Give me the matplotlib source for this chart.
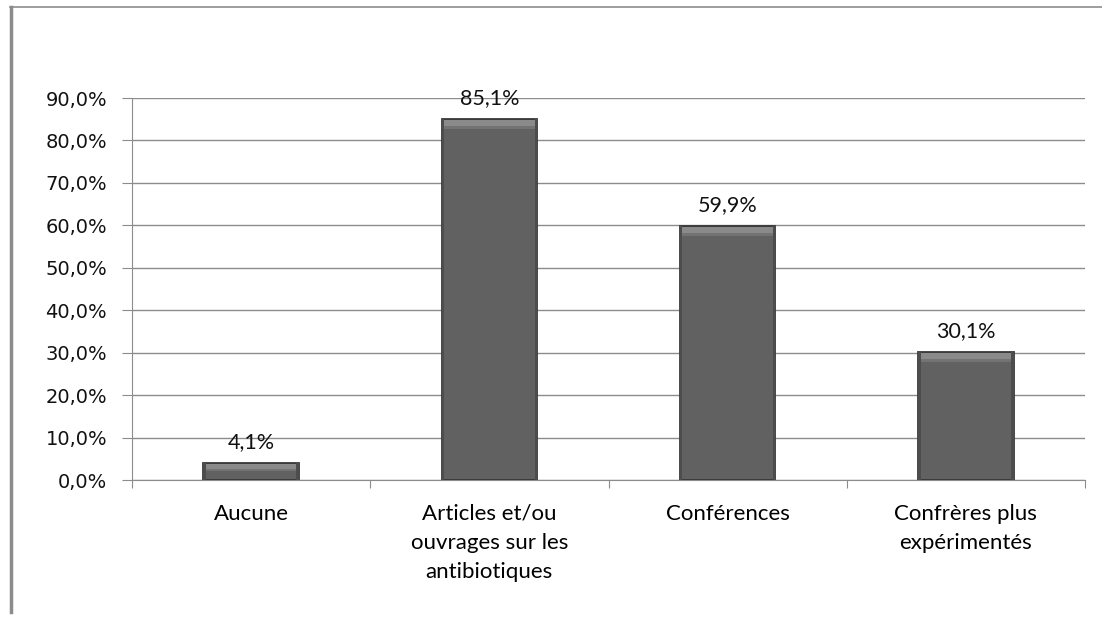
import matplotlib.pyplot as plt
from matplotlib.patches import Rectangle
from matplotlib.ticker import FuncFormatter

categories = ["Aucune", "Articles et/ou\nouvrages sur les\nantibiotiques",
              "Conférences", "Confrères plus\nexpérimentés"]
values = [4.1, 85.1, 59.9, 30.1]
yticks = [0, 10, 20, 30, 40, 50, 60, 70, 80, 90]

plt.rcParams['font.family'] = ['Lato', 'DejaVu Sans']

fig = plt.figure(figsize=(11.02, 6.17), dpi=100)
ax = fig.add_axes([132 / 1102, 1 - 480 / 617, (1085 - 132) / 1102, (480 - 98) / 617])

x = list(range(len(values)))
bars = ax.bar(x, values, width=0.40, color="#616161", edgecolor="#383838",
              linewidth=1.3, zorder=3)

# bevel: darker sides, lighter strip along the top
for b in bars:
    h = b.get_height()
    x0, w = b.get_x(), b.get_width()
    side = 0.010
    ax.add_patch(Rectangle((x0, 0), side, h, facecolor="#4d4d4d", edgecolor="none", zorder=4))
    ax.add_patch(Rectangle((x0 + w - side, 0), side, h, facecolor="#4d4d4d", edgecolor="none", zorder=4))
    band = min(1.4, h * 0.3)
    ax.add_patch(Rectangle((x0 + side, h - band - 0.25), w - 2 * side, band,
                           facecolor="#8a8a8a", edgecolor="none", zorder=4))
    ax.add_patch(Rectangle((x0 + side, h - band - 0.25 - band * 0.5), w - 2 * side, band * 0.5,
                           facecolor="#737373", edgecolor="none", zorder=4))
    ax.annotate(f"{h:.1f}%".replace(".", ","), (x0 + w / 2, h),
                xytext=(0, 15), textcoords="offset points", ha="center", va="center",
                fontsize=15.5, color="#111111")

ax.set_xlim(-0.5, len(values) - 0.5)
ax.set_ylim(0, 90)
ax.set_yticks(yticks)
ax.yaxis.set_major_formatter(FuncFormatter(lambda v, p: f"{v:.1f}%".replace(".", ",")))
ax.grid(axis="y", color="#8c8c8c", linewidth=1, zorder=0)

ax.set_xticks([i + 0.5 for i in range(-1, len(values))], minor=False)
ax.set_xticklabels([])
ax.set_xticks(x, minor=True)
ax.set_xticklabels(categories, minor=True, fontsize=16, linespacing=1.58, va="top")
ax.tick_params(axis="x", which="minor", length=0, pad=17)
ax.tick_params(axis="x", which="major", length=6, color="#8c8c8c", direction="out")
ax.tick_params(axis="y", length=7, color="#8c8c8c", labelsize=14, pad=11)
for lab in ax.get_yticklabels():
    lab.set_family(['DejaVu Sans'])
    lab.set_color("#111111")

for s in ["top", "right"]:
    ax.spines[s].set_visible(False)
ax.spines["left"].set_color("#8c8c8c")
ax.spines["bottom"].set_color("#8c8c8c")

# outer frame lines
fig.add_artist(plt.Line2D([11 / 1102, 11 / 1102], [1 - 7 / 617, 1 - 612 / 617],
                          color="#8c8c8c", linewidth=2.5))
fig.add_artist(plt.Line2D([10 / 1102, 1], [1 - 7 / 617, 1 - 7 / 617],
                          color="#8c8c8c", linewidth=1.2))

fig.savefig("out.png", dpi=100)
